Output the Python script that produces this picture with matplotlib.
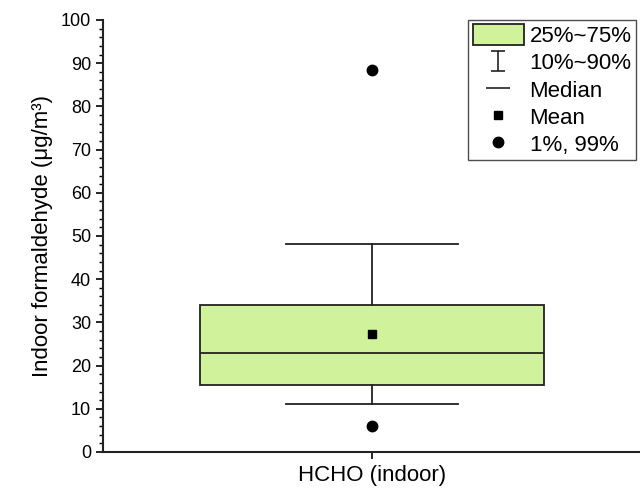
import matplotlib
matplotlib.use("Agg")
import matplotlib.pyplot as plt
from matplotlib.patches import Patch
from matplotlib.lines import Line2D
from matplotlib.path import Path
from matplotlib.ticker import MultipleLocator

plt.rcParams['font.family'] = ['Liberation Sans', 'DejaVu Sans']

# data
category = "HCHO (indoor)"
q1, median, q3 = 15.6, 23.0, 34.0
p10, p90 = 11.0, 48.1
mean_val = 27.2
p1, p99 = 6.0, 88.4
legend_labels = ["25%~75%", "10%~90%", "Median", "Mean", "1%, 99%"]
box_color = "#cff29a"

fig = plt.figure(figsize=(6.4, 4.95), dpi=100)
ax = fig.add_axes([103/640, 1-452/495, 538/640, 432/495])

stats = [{
    "med": median, "q1": q1, "q3": q3,
    "whislo": p10, "whishi": p90,
    "mean": mean_val, "fliers": [p1, p99], "label": category,
}]
ax.bxp(stats, positions=[1], widths=0.64, showmeans=True, patch_artist=True,
       boxprops=dict(facecolor=box_color, edgecolor="#222222", linewidth=1.3),
       medianprops=dict(color="#222222", linewidth=1.3),
       whiskerprops=dict(color="#222222", linewidth=1.3),
       capprops=dict(color="#222222", linewidth=1.3),
       capwidths=0.32,
       meanprops=dict(marker="s", markerfacecolor="black", markeredgecolor="black", markersize=6),
       flierprops=dict(marker="o", markerfacecolor="black", markeredgecolor="black", markersize=7.5))

ax.set_xlim(0.5, 1.5)
ax.set_ylim(0, 100)
ax.yaxis.set_major_locator(MultipleLocator(10))
ax.yaxis.set_minor_locator(MultipleLocator(2))
ax.tick_params(axis="y", which="major", direction="out", length=5, width=1.2, labelsize=13)
ax.tick_params(axis="x", which="major", direction="out", length=5, width=1.2, labelsize=16, pad=4)
ax.tick_params(axis="y", which="minor", direction="out", length=3, width=1.0)
ax.set_ylabel("Indoor formaldehyde (μg/m³)", fontsize=16, labelpad=6)
for s in ["top", "right"]:
    ax.spines[s].set_visible(False)
for s in ["left", "bottom"]:
    ax.spines[s].set_linewidth(1.5)
    ax.spines[s].set_color("#222222")

# I-beam marker for legend
ibeam = Path([(-0.7, 1), (0.7, 1), (0, 1), (0, -1), (-0.7, -1), (0.7, -1)],
             [Path.MOVETO, Path.LINETO, Path.MOVETO, Path.LINETO, Path.MOVETO, Path.LINETO])
handles = [
    Patch(facecolor=box_color, edgecolor="#222222", linewidth=1.3),
    Line2D([], [], linestyle="none", marker=ibeam, markersize=15, fillstyle="none",
           markeredgecolor="#222222", markeredgewidth=1.2),
    Line2D([], [], linestyle="none", marker="_", markersize=17,
           markeredgecolor="#222222", markeredgewidth=1.2),
    Line2D([], [], linestyle="none", marker="s", color="black", markersize=6),
    Line2D([], [], linestyle="none", marker="o", color="black", markersize=7.5),
]
leg = fig.legend(handles, legend_labels, loc="upper right",
                 bbox_to_anchor=(636/640, 1-20/495), bbox_transform=fig.transFigure,
                 fontsize=16, frameon=True, fancybox=False, borderaxespad=0,
                 handlelength=2.3, handleheight=1.05, handletextpad=0.25,
                 labelspacing=0.19, borderpad=0.2)
leg.get_frame().set_edgecolor("#222222")
leg.get_frame().set_linewidth(1.0)

fig.savefig("out.png", dpi=100)
